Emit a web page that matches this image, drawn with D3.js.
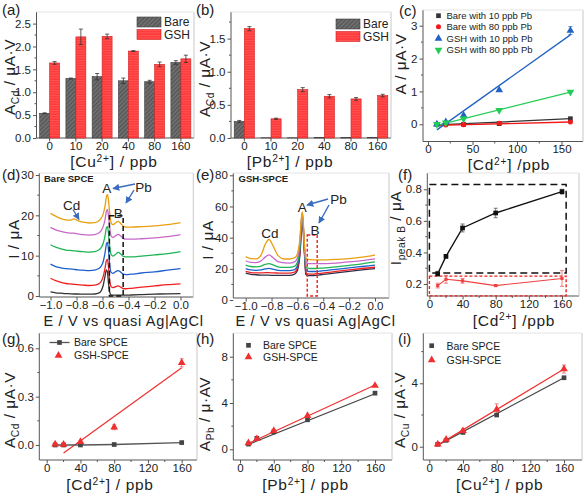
<!DOCTYPE html>
<html><head><meta charset="utf-8">
<script src="https://cdn.jsdelivr.net/npm/d3@7"></script>
<style>
body{margin:0;background:#fff}
text{font-family:"Liberation Sans",Arial,sans-serif;fill:#222}
</style>
</head><body>
<svg id="c" width="586" height="494"></svg>
<script>
// ---------------- DATA ----------------
const catsA = ["0","10","20","40","80","160"];
const bareA = [0.54,1.30,1.34,1.25,1.23,1.65];
const bareAErr = [0.01,0.01,0.07,0.06,0.03,0.04];
const gshA = [1.64,2.21,2.22,1.90,1.61,1.73];
const gshAErr = [0.03,0.17,0.05,0.01,0.05,0.08];

const catsB = ["0","10","20","40","80","160"];
const bareB = [0.25,0.003,0.003,0.005,0.005,0.006];
const bareBErr = [0.015,0,0,0,0,0];
const gshB = [1.65,0.29,0.73,0.63,0.59,0.64];
const gshBErr = [0.03,0.01,0.03,0.025,0.02,0.02];

const concC = [10,20,40,80,160];
const cBare10 = [0.0,0.03,0.0,0.02,0.17];
const cBare80 = [0.0,-0.02,-0.01,0.03,0.07];
const cGsh10 = [0.0,0.07,0.27,1.04,2.85];
const cGsh10Err = [0.02,0.02,0.03,0.03,0.12];
const cGsh80 = [0.0,0.05,0.17,0.43,0.98];
const fitX = [10,160];
const cFitBare10 = [-0.02,0.17];
const cFitBare80 = [-0.03,0.07];
const cFitGsh10 = [-0.17,2.72];
const cFitGsh80 = [-0.03,0.98];

const potE = [-1.0,-0.96,-0.92,-0.88,-0.85,-0.82,-0.79,-0.75,-0.7,-0.66,-0.63,-0.61,-0.595,-0.58,-0.57,-0.562,-0.555,-0.545,-0.535,-0.52,-0.5,-0.48,-0.46,-0.44,-0.42,-0.38,-0.3,-0.2,-0.1,0.0];
const dOrange = [20.5,19.8,19.2,18.9,18.8,19.1,18.7,18.3,18.1,18.2,18.6,19.3,20.3,22.4,24.6,25.2,24.0,20.6,18.3,17.7,18.1,18.5,18.0,17.3,17.1,17.1,17.2,17.4,17.7,18.2];
const dPurple = [17.0,16.4,16.0,15.7,15.6,15.6,15.4,15.2,15.1,15.2,15.6,16.2,17.2,19.0,21.0,21.4,20.2,17.0,15.0,14.5,14.9,15.3,14.9,14.3,14.1,14.1,14.2,14.4,14.7,15.2];
const dGreen = [12.7,12.1,11.7,11.4,11.3,11.2,11.1,11.0,10.9,11.0,11.4,12.0,13.0,15.0,16.9,17.2,15.8,12.5,10.4,9.9,10.3,10.8,10.4,9.8,9.7,9.7,9.9,10.2,10.5,11.0];
const dBlue = [7.9,7.3,7.0,6.8,6.7,6.6,6.5,6.4,6.3,6.4,6.8,7.4,8.5,10.8,12.9,13.3,11.8,8.0,5.9,5.6,6.0,6.3,5.9,5.4,5.3,5.4,5.7,6.0,6.4,6.8];
const dRed = [4.4,3.8,3.4,3.1,3.0,2.9,2.8,2.7,2.6,2.7,3.0,3.6,4.8,7.0,8.8,9.1,7.6,4.0,2.4,2.1,2.3,2.5,2.2,1.8,1.8,1.9,2.2,2.5,2.8,3.0];
const dBlack = [1.0,0.8,0.7,0.6,0.55,0.5,0.5,0.45,0.45,0.5,0.7,1.3,2.6,5.0,6.5,6.0,3.5,1.0,0.3,0.2,0.2,0.2,0.2,0.2,0.2,0.25,0.35,0.45,0.55,0.6];

const eOrange = [27.8,26.5,26.4,29.0,35.5,38.8,35.0,28.5,26.3,26.3,26.8,28.0,31.0,40.0,52.0,56.5,50.0,35.0,27.0,26.0,25.9,25.8,25.8,25.8,25.8,25.8,26.0,26.6,27.5,28.8];
const ePurple = [25.2,24.1,24.0,25.2,27.5,29.0,27.3,24.6,23.8,23.7,24.2,25.4,28.5,38.0,51.0,56.0,49.0,33.0,24.5,23.5,23.3,23.3,23.3,23.3,23.3,23.4,23.7,24.4,25.3,26.4];
const eGreen = [22.4,21.5,21.3,21.8,22.8,23.4,22.6,21.3,20.9,20.9,21.4,22.6,25.6,35.0,49.0,55.0,48.0,32.0,21.5,20.4,20.2,20.2,20.2,20.3,20.4,20.6,21.2,22.2,23.2,24.4];
const eBlue = [20.2,19.3,19.0,19.3,19.9,20.3,19.8,19.0,18.8,18.8,19.3,20.5,23.5,33.0,47.0,54.0,47.0,31.0,19.5,18.4,18.3,18.3,18.3,18.4,18.6,18.9,19.6,20.6,21.5,22.4];
const eRed = [18.3,17.6,17.4,17.4,17.5,17.5,17.4,17.3,17.2,17.2,17.7,18.9,22.0,31.0,45.0,52.5,46.0,30.0,17.8,16.7,16.6,16.6,16.7,16.9,17.1,17.5,18.3,19.3,20.2,21.0];
const eBlack = [17.3,16.5,16.2,16.0,15.9,15.9,15.8,15.8,15.8,15.8,16.3,17.5,20.5,29.5,43.0,50.5,44.0,28.5,16.5,15.6,15.6,15.7,15.8,16.0,16.2,16.6,17.4,18.4,19.3,20.2];

const concF = [10,20,40,80,160];
const fBlack = [0.265,0.375,0.555,0.65,0.785];
const fBlackErr = [0.015,0.01,0.025,0.03,0.015];
const fRed = [0.19,0.23,0.22,0.19,0.235];
const fRedErr = [0.015,0.025,0.015,0.005,0.05];

const concG = [10,20,40,80,160];
const gBare = [0.0,0.0,0.0,0.003,0.015];
const gGsh = [0.005,0.003,0.02,0.11,0.51];
const gGshErr = [0.005,0.005,0.005,0.015,0.025];
const gFitX = [20,160];
const gFitGsh = [-0.05,0.48];

const concH = [10,20,40,80,160];
const hBare = [0.45,0.95,1.5,2.55,4.85];
const hGsh = [0.55,0.9,1.6,2.9,5.5];
const hFitBare = [0.42,4.8];
const hFitGsh = [0.5,5.55];

const concI = [10,20,40,80,160];
const iBare = [0.15,0.4,0.9,2.0,4.35];
const iGsh = [0.15,0.45,1.0,2.35,4.9];
const iGshErr = [0.03,0.05,0.12,0.35,0.25];
const iFitBare = [0.1,4.35];
const iFitGsh = [0.1,4.9];

// ---------------- HELPERS ----------------
const svg = d3.select("#c");
const AX = "#555";
const TF = 15.5;   // axis title font size
const defs = svg.append("defs");
const pb = defs.append("pattern").attr("id","hatch").attr("width",3).attr("height",3)
  .attr("patternUnits","userSpaceOnUse").attr("patternTransform","rotate(45)");
pb.append("rect").attr("width",3).attr("height",3).attr("fill","#6e6e6e");
pb.append("line").attr("x1",0).attr("y1",0).attr("x2",0).attr("y2",3).attr("stroke","#454545").attr("stroke-width",1.4);
const pr = defs.append("pattern").attr("id","redp").attr("width",4).attr("height",2.5)
  .attr("patternUnits","userSpaceOnUse");
pr.append("rect").attr("width",4).attr("height",2.5).attr("fill","#ff3a3a");
pr.append("line").attr("x1",0).attr("y1",0.5).attr("x2",4).attr("y2",0.5).attr("stroke","#ff6060").attr("stroke-width",0.7);
const mk = defs.append("marker").attr("id","arr").attr("viewBox","0 0 10 10").attr("refX",9).attr("refY",5)
  .attr("markerWidth",5).attr("markerHeight",5).attr("orient","auto");
mk.append("path").attr("d","M0,0L10,5L0,10z").attr("fill","#3a6cc0");

function rich(t, parts, size){
  let shift = 0;
  parts.forEach(([s,k])=>{
    const ts = t.append("tspan").text(s);
    let ns = 0;
    if(k==="sub"){ ns = size*0.26; ts.attr("font-size", size*0.66); }
    else if(k==="sup"){ ns = -size*0.33; ts.attr("font-size", size*0.66); }
    if(ns!==shift) ts.attr("dy", ns-shift);
    shift = ns;
  });
  return t;
}

function frame(o){
  const g = svg.append("g");
  const yAx = d3.axisLeft(o.y).tickValues(o.yTicks).tickFormat(o.yFmt).tickSize(3.5).tickPadding(2);
  const gy = g.append("g").attr("transform",`translate(${o.l},0)`).call(yAx);
  const xAx = (o.xAxis || d3.axisBottom(o.x).tickValues(o.xTicks).tickFormat(o.xFmt)).tickSize(3.5).tickPadding(0);
  const gx = g.append("g").attr("transform",`translate(0,${o.b})`).call(xAx);
  [gx,gy].forEach(a=>{
    a.select(".domain").remove();
    a.selectAll(".tick line").attr("stroke",AX);
    a.selectAll(".tick text").attr("font-size",11.5).attr("fill","#222");
  });
  if(o.yMinor) g.selectAll(null).data(o.yMinor).join("line")
    .attr("x1",o.l).attr("x2",o.l-2).attr("y1",d=>o.y(d)).attr("y2",d=>o.y(d)).attr("stroke",AX);
  if(o.xMinor) g.selectAll(null).data(o.xMinor).join("line")
    .attr("y1",o.b).attr("y2",o.b+2).attr("x1",d=>o.x(d)).attr("x2",d=>o.x(d)).attr("stroke",AX);
  g.append("line").attr("x1",o.l).attr("x2",o.l).attr("y1",o.t).attr("y2",o.b).attr("stroke",AX);
  g.append("line").attr("x1",o.l).attr("x2",o.r).attr("y1",o.b).attr("y2",o.b).attr("stroke",AX);
  g.append("line").attr("x1",o.r).attr("x2",o.r).attr("y1",o.t).attr("y2",o.b).attr("stroke","#c8c8c8");
  g.append("line").attr("x1",o.l).attr("x2",o.r).attr("y1",o.t).attr("y2",o.t).attr("stroke","#e4e4e4");
  return g;
}
function ytitle(x,y,parts,size){
  const t = svg.append("text").attr("transform",`translate(${x},${y}) rotate(-90)`)
    .attr("text-anchor","middle").attr("font-size",size).attr("letter-spacing",0.5);
  rich(t,parts,size);
}
function xtitle(x,y,parts,size){
  const t = svg.append("text").attr("x",x).attr("y",y).attr("text-anchor","middle").attr("font-size",size).attr("letter-spacing",0.7);
  rich(t,parts,size);
}
function plabel(x,y,s){ svg.append("text").attr("x",x).attr("y",y).attr("font-size",15).text(s); }
const f1 = d3.format(".1f"), f0 = d3.format("d");
const sq = d3.symbol().type(d3.symbolSquare).size(22);
const tri = d3.symbol().type(d3.symbolTriangle).size(26);
const circ = d3.symbol().type(d3.symbolCircle).size(20);

function markers(g,xs,ys,x,y,sym,color,rot){
  g.selectAll(null).data(xs).join("path").attr("d",sym)
    .attr("transform",(d,i)=>`translate(${x(d)},${y(ys[i])})${rot?" rotate(180)":""}`)
    .attr("fill",color);
}
function poly(g,xs,ys,x,y,color,w){
  g.append("path").datum(xs.map((d,i)=>[d,ys[i]]))
    .attr("d",d3.line().x(d=>x(d[0])).y(d=>y(d[1]))).attr("fill","none").attr("stroke",color).attr("stroke-width",w||1.2);
}
function errs(g,xs,ys,es,x,y,color){
  xs.forEach((d,i)=>{
    if(!es[i]) return;
    const cx=x(d), y1=y(ys[i]-es[i]), y2=y(ys[i]+es[i]);
    g.append("line").attr("x1",cx).attr("x2",cx).attr("y1",y1).attr("y2",y2).attr("stroke",color).attr("stroke-width",0.8);
    g.append("line").attr("x1",cx-2).attr("x2",cx+2).attr("y1",y1).attr("y2",y1).attr("stroke",color).attr("stroke-width",0.8);
    g.append("line").attr("x1",cx-2).attr("x2",cx+2).attr("y1",y2).attr("y2",y2).attr("stroke",color).attr("stroke-width",0.8);
  });
}

// ---------------- (a) & (b) bars ----------------
function barPanel(o, cats, bare, bareE, gsh, gshE){
  const x = d3.scaleBand().domain(cats).range([o.l,o.r]).paddingInner(0.24).paddingOuter(0.12);
  const sub = d3.scaleBand().domain(["b","g"]).range([0,x.bandwidth()]);
  const g = frame({...o, x, xAxis:d3.axisBottom(x)});
  const bw = sub.bandwidth();
  cats.forEach((c,i)=>{
    g.append("rect").attr("x",x(c)+sub("b")).attr("width",bw).attr("y",o.y(bare[i])).attr("height",o.y(0)-o.y(bare[i]))
      .attr("fill","url(#hatch)").attr("stroke","#3c3c3c").attr("stroke-width",0.6);
    g.append("rect").attr("x",x(c)+sub("g")).attr("width",bw).attr("y",o.y(gsh[i])).attr("height",o.y(0)-o.y(gsh[i]))
      .attr("fill","url(#redp)").attr("stroke","#d02020").attr("stroke-width",0.6);
  });
  errs(g,cats,bare,bareE,c=>x(c)+sub("b")+bw/2,o.y,"#333");
  errs(g,cats,gsh,gshE,c=>x(c)+sub("g")+bw/2,o.y,"#333");
  g.append("rect").attr("x",o.lx).attr("y",o.ly).attr("width",24).attr("height",10).attr("fill","url(#hatch)").attr("stroke","#3c3c3c").attr("stroke-width",0.6);
  g.append("rect").attr("x",o.lx).attr("y",o.ly+12.5).attr("width",24).attr("height",10).attr("fill","url(#redp)").attr("stroke","#d02020").attr("stroke-width",0.6);
  g.append("text").attr("x",o.lx+27).attr("y",o.ly+9).attr("font-size",12).text("Bare");
  g.append("text").attr("x",o.lx+27).attr("y",o.ly+21.5).attr("font-size",12).text("GSH");
}
const yA = d3.scaleLinear().domain([0,2.5]).range([138,23.6]);
barPanel({l:36.5,r:194,t:12,b:138,y:yA,yTicks:[0,0.5,1,1.5,2,2.5],yFmt:f1,yMinor:[0.25,0.75,1.25,1.75,2.25],lx:137,ly:17},
  catsA,bareA,bareAErr,gshA,gshAErr);
const yB = d3.scaleLinear().domain([0,1.5]).range([138,38.6]);
barPanel({l:231,r:391,t:12,b:138,y:yB,yTicks:[0,0.5,1,1.5],yFmt:f1,yMinor:[0.25,0.75,1.25,1.75],lx:336,ly:19},
  catsB,bareB,bareBErr,gshB,gshBErr);
plabel(2,15,"(a)"); plabel(196,15,"(b)");
ytitle(15,77,[["A",""],["Cd","sub"],[" / μA·V",""]],TF);
ytitle(210,79,[["A",""],["Cd","sub"],[" / μA·V",""]],TF);
xtitle(114,167,[["[Cu",""],["2+","sup"],["] / ppb",""]],TF);
xtitle(290,167,[["[Pb",""],["2+","sup"],["] / ppb",""]],TF);

// ---------------- (c) ----------------
{
  const x = d3.scaleLinear().domain([0,150]).range([428,561.5]);
  const y = d3.scaleLinear().domain([0,3]).range([124.3,25.7]);
  const o = {l:423,r:583,t:10,b:141.5,x,y,xTicks:[0,50,100,150],xFmt:f0,yTicks:[0,1,2,3],yFmt:f0,xMinor:[25,75,125,175].filter(v=>x(v)<583),yMinor:[0.5,1.5,2.5]};
  const g = frame(o);
  poly(g,fitX,cFitBare10,x,y,"#333",1.3);
  poly(g,fitX,cFitBare80,x,y,"#f01818",1.3);
  poly(g,fitX,cFitGsh10,x,y,"#2262c4",1.3);
  poly(g,fitX,cFitGsh80,x,y,"#22cc55",1.3);
  errs(g,concC,cGsh10,cGsh10Err,x,y,"#2262c4");
  markers(g,concC,cBare10,x,y,sq,"#333");
  markers(g,concC,cBare80,x,y,circ,"#f01818");
  markers(g,concC,cGsh10,x,y,tri,"#2262c4");
  markers(g,concC,cGsh80,x,y,tri,"#22cc55",true);
  const leg = [["Bare with 10 ppb Pb",sq,"#333",false,15.7],["Bare with 80 ppb Pb",circ,"#f01818",false,26.8],
               ["GSH with 10 ppb Pb",tri,"#2262c4",false,38.5],["GSH with 80 ppb Pb",tri,"#22cc55",true,50]];
  leg.forEach(([s,sym,c,rot,yy])=>{
    g.append("path").attr("d",sym).attr("fill",c).attr("transform",`translate(438.5,${yy})${rot?" rotate(180)":""}`);
    g.append("text").attr("x",446.5).attr("y",yy+3.4).attr("font-size",9.5).text(s);
  });
  plabel(399,16,"(c)");
  ytitle(406,64,[["A / μA·V",""]],TF);
  xtitle(509,170,[["[Cd",""],["2+","sup"],["] /ppb",""]],TF);
}

// ---------------- (d) & (e) ----------------
function cvPanel(o, curves){
  const g = frame(o);
  const line = d3.line().x(d=>o.x(d[0])).y(d=>o.y(d[1])).curve(d3.curveMonotoneX);
  curves.forEach(([vals,c])=>{
    g.append("path").datum(potE.map((e,i)=>[e,vals[i]])).attr("d",line).attr("fill","none").attr("stroke",c).attr("stroke-width",1.3);
  });
  return g;
}
const curveCols = ["#333333","#f02020","#1f60cc","#1fb455","#c868c8","#e8a010"];
{
  const x = d3.scaleLinear().domain([-1,0]).range([50.5,180.5]);
  const y = d3.scaleLinear().domain([0,30]).range([296,175]);
  const g = cvPanel({l:39.3,r:193.3,t:173,b:297,x,y,xTicks:[-1,-0.8,-0.6,-0.4,-0.2,0],xFmt:f1,yTicks:[0,10,20,30],yFmt:f0,yMinor:[5,15,25]},
    [[dBlack,curveCols[0]],[dRed,curveCols[1]],[dBlue,curveCols[2]],[dGreen,curveCols[3]],[dPurple,curveCols[4]],[dOrange,curveCols[5]]]);
  g.append("rect").attr("x",x(-0.547)).attr("y",y(19.9)).attr("width",x(-0.441)-x(-0.547)).attr("height",y(0)-y(19.9))
    .attr("fill","none").attr("stroke","#111").attr("stroke-width",1.5).attr("stroke-dasharray","5,3");
  g.append("text").attr("x",44).attr("y",182).attr("font-size",9.5).attr("font-weight","bold").text("Bare SPCE");
  g.append("text").attr("x",106.7).attr("y",193).attr("font-size",13.5).attr("text-anchor","middle").text("A");
  g.append("text").attr("x",143.5).attr("y",191.5).attr("font-size",13.5).attr("text-anchor","middle").text("Pb");
  g.append("text").attr("x",71.7).attr("y",210).attr("font-size",13.5).attr("text-anchor","middle").text("Cd");
  g.append("text").attr("x",118.3).attr("y",218).attr("font-size",13.5).attr("text-anchor","middle").text("B");
  [[135,184,113,188.5],[134,190,126,203],[73,209.5,79,219.5]].forEach(a=>{
    g.append("line").attr("x1",a[0]).attr("y1",a[1]).attr("x2",a[2]).attr("y2",a[3]).attr("stroke","#3a6cc0").attr("stroke-width",1.4).attr("marker-end","url(#arr)");
  });
  plabel(2,180,"(d)");
  ytitle(19,239,[["I / μA",""]],TF);
  xtitle(123.5,325.5,[["E / V vs quasi Ag|AgCl",""]],14.5);
}
{
  const x = d3.scaleLinear().domain([-1,0]).range([245.7,375]);
  const y = d3.scaleLinear().domain([0,80]).range([300,175.3]);
  const g = cvPanel({l:233.3,r:389,t:173,b:298,x,y,xTicks:[-1,-0.8,-0.6,-0.4,-0.2,0],xFmt:f1,yTicks:[0,20,40,60,80],yFmt:f0,yMinor:[10,30,50,70]},
    [[eBlack,"#2e2e4a"],[eRed,curveCols[1]],[eBlue,curveCols[2]],[eGreen,curveCols[3]],[ePurple,curveCols[4]],[eOrange,curveCols[5]]]);
  g.append("rect").attr("x",x(-0.524)).attr("y",y(41.7)).attr("width",x(-0.447)-x(-0.524)).attr("height",y(2.6)-y(41.7))
    .attr("fill","none").attr("stroke","#ee2020").attr("stroke-width",1.4).attr("stroke-dasharray","3,2");
  g.append("text").attr("x",238.5).attr("y",182).attr("font-size",9.5).attr("font-weight","bold").text("GSH-SPCE");
  g.append("text").attr("x",302.3).attr("y",211.5).attr("font-size",13.5).attr("text-anchor","middle").text("A");
  g.append("text").attr("x",338.5).attr("y",204).attr("font-size",13.5).attr("text-anchor","middle").text("Pb");
  g.append("text").attr("x",270).attr("y",237.5).attr("font-size",13.5).attr("text-anchor","middle").text("Cd");
  g.append("text").attr("x",315).attr("y",235).attr("font-size",13.5).attr("text-anchor","middle").text("B");
  [[328,199,307,205],[329,205,319,223]].forEach(a=>{
    g.append("line").attr("x1",a[0]).attr("y1",a[1]).attr("x2",a[2]).attr("y2",a[3]).attr("stroke","#3a6cc0").attr("stroke-width",1.4).attr("marker-end","url(#arr)");
  });
  plabel(196,180,"(e)");
  ytitle(213,240,[["I / μA",""]],TF);
  xtitle(315.5,325.5,[["E / V vs quasi Ag|AgCl",""]],14.5);
}

// ---------------- (f) ----------------
{
  const x = d3.scaleLinear().domain([0,160]).range([429.4,562]);
  const y = d3.scaleLinear().domain([0.2,0.8]).range([284,189.3]);
  const g = frame({l:427.3,r:579,t:173,b:296,x,y,xTicks:[0,40,80,120,160],xFmt:f0,yTicks:[0.2,0.4,0.6,0.8],yFmt:f1,xMinor:[20,60,100,140],yMinor:[0.3,0.5,0.7]});
  g.append("rect").attr("x",x(0)).attr("y",y(0.83)).attr("width",x(165)-x(0)).attr("height",y(0.27)-y(0.83))
    .attr("fill","none").attr("stroke","#111").attr("stroke-width",1.5).attr("stroke-dasharray","7,4");
  g.append("rect").attr("x",x(0)).attr("y",y(0.25)).attr("width",x(165)-x(0)).attr("height",y(0.125)-y(0.25))
    .attr("fill","none").attr("stroke","#ee2020").attr("stroke-width",1.4).attr("stroke-dasharray","3,2");
  poly(g,concF,fBlack,x,y,"#111",1.4);
  poly(g,concF,fRed,x,y,"#f04040",1.1);
  errs(g,concF,fBlack,fBlackErr,x,y,"#555");
  errs(g,concF,fRed,fRedErr,x,y,"#f06060");
  markers(g,concF,fBlack,x,y,sq,"#111");
  markers(g,concF,fRed,x,y,d3.symbol().type(d3.symbolSquare).size(10),"#f04040");
  plabel(398,180,"(f)");
  ytitle(401,228,[["I",""],["peak B","sub"],[" / μA",""]],TF);
  xtitle(514,325.5,[["[Cd",""],["2+","sup"],["] /ppb",""]],TF);
}

// ---------------- (g) ----------------
{
  const x = d3.scaleLinear().domain([0,160]).range([46.7,181.7]);
  const y = d3.scaleLinear().domain([0,0.6]).range([445,348.3]);
  const g = frame({l:39.3,r:197,t:333,b:460,x,y,xTicks:[0,40,80,120,160],xFmt:f0,yTicks:[0,0.3,0.6],yFmt:f1,xMinor:[20,60,100,140],yMinor:[0.15,0.45]});
  poly(g,gFitX,gFitGsh,x,y,"#f03030",1.2);
  poly(g,concG,gBare,x,y,"#555",1.3);
  errs(g,concG,gGsh,gGshErr,x,y,"#f06060");
  markers(g,concG,gBare,x,y,sq,"#444");
  markers(g,concG,gGsh,x,y,tri,"#f03030");
  g.append("line").attr("x1",49.5).attr("x2",69.5).attr("y1",342.5).attr("y2",342.5).attr("stroke","#555").attr("stroke-width",1.3);
  g.append("path").attr("d",sq).attr("fill","#444").attr("transform","translate(59.5,342.5)");
  g.append("path").attr("d",tri).attr("fill","#f03030").attr("transform","translate(58.5,355.5)");
  g.append("text").attr("x",74).attr("y",346.3).attr("font-size",10.5).text("Bare SPCE");
  g.append("text").attr("x",74).attr("y",359.3).attr("font-size",10.5).text("GSH-SPCE");
  plabel(2,344,"(g)");
  ytitle(15,410,[["A",""],["Cd","sub"],[" / μA·V",""]],TF);
  xtitle(110,490,[["[Cd",""],["2+","sup"],["] / ppb",""]],TF);
}
// ---------------- (h) ----------------
{
  const x = d3.scaleLinear().domain([0,160]).range([240,375]);
  const y = d3.scaleLinear().domain([0,8]).range([449.3,356.7]);
  const g = frame({l:233.3,r:392,t:333,b:460,x,y,xTicks:[0,40,80,120,160],xFmt:f0,yTicks:[0,4,8],yFmt:f0,xMinor:[20,60,100,140],yMinor:[2,6]});
  poly(g,fitX,hFitBare,x,y,"#444",1.2);
  poly(g,fitX,hFitGsh,x,y,"#f03030",1.2);
  markers(g,concH,hBare,x,y,sq,"#444");
  markers(g,concH,hGsh,x,y,tri,"#f03030");
  g.append("path").attr("d",sq).attr("fill","#444").attr("transform","translate(248.5,345.3)");
  g.append("path").attr("d",tri).attr("fill","#f03030").attr("transform","translate(248.5,357)");
  g.append("text").attr("x",263).attr("y",349).attr("font-size",10.5).text("Bare SPCE");
  g.append("text").attr("x",263).attr("y",361).attr("font-size",10.5).text("GSH-SPCE");
  plabel(196,344,"(h)");
  ytitle(210,414,[["A",""],["Pb","sub"],[" / μ·AV",""]],TF);
  xtitle(305.5,490,[["[Pb",""],["2+","sup"],["] / ppb",""]],TF);
}
// ---------------- (i) ----------------
{
  const x = d3.scaleLinear().domain([0,160]).range([429.3,564]);
  const y = d3.scaleLinear().domain([0,4]).range([446.7,383.3]);
  const g = frame({l:423.3,r:582,t:333,b:460,x,y,xTicks:[0,40,80,120,160],xFmt:f0,yTicks:[0,4],yFmt:f0,xMinor:[20,60,100,140],yMinor:[2,6]});
  poly(g,fitX,iFitBare,x,y,"#444",1.2);
  poly(g,fitX,iFitGsh,x,y,"#f03030",1.2);
  errs(g,concI,iGsh,iGshErr,x,y,"#f06060");
  markers(g,concI,iBare,x,y,sq,"#444");
  markers(g,concI,iGsh,x,y,tri,"#f03030");
  g.append("path").attr("d",sq).attr("fill","#444").attr("transform","translate(431.7,345.7)");
  g.append("path").attr("d",tri).attr("fill","#f03030").attr("transform","translate(431.7,360)");
  g.append("text").attr("x",446.5).attr("y",349.5).attr("font-size",10.5).text("Bare SPCE");
  g.append("text").attr("x",446.5).attr("y",363.8).attr("font-size",10.5).text("GSH-SPCE");
  plabel(398,344,"(i)");
  ytitle(405,410,[["A",""],["Cu","sub"],[" / μA·V",""]],TF);
  xtitle(499.7,490,[["[Cu",""],["2+","sup"],["] / ppb",""]],TF);
}
</script>
</body></html>
